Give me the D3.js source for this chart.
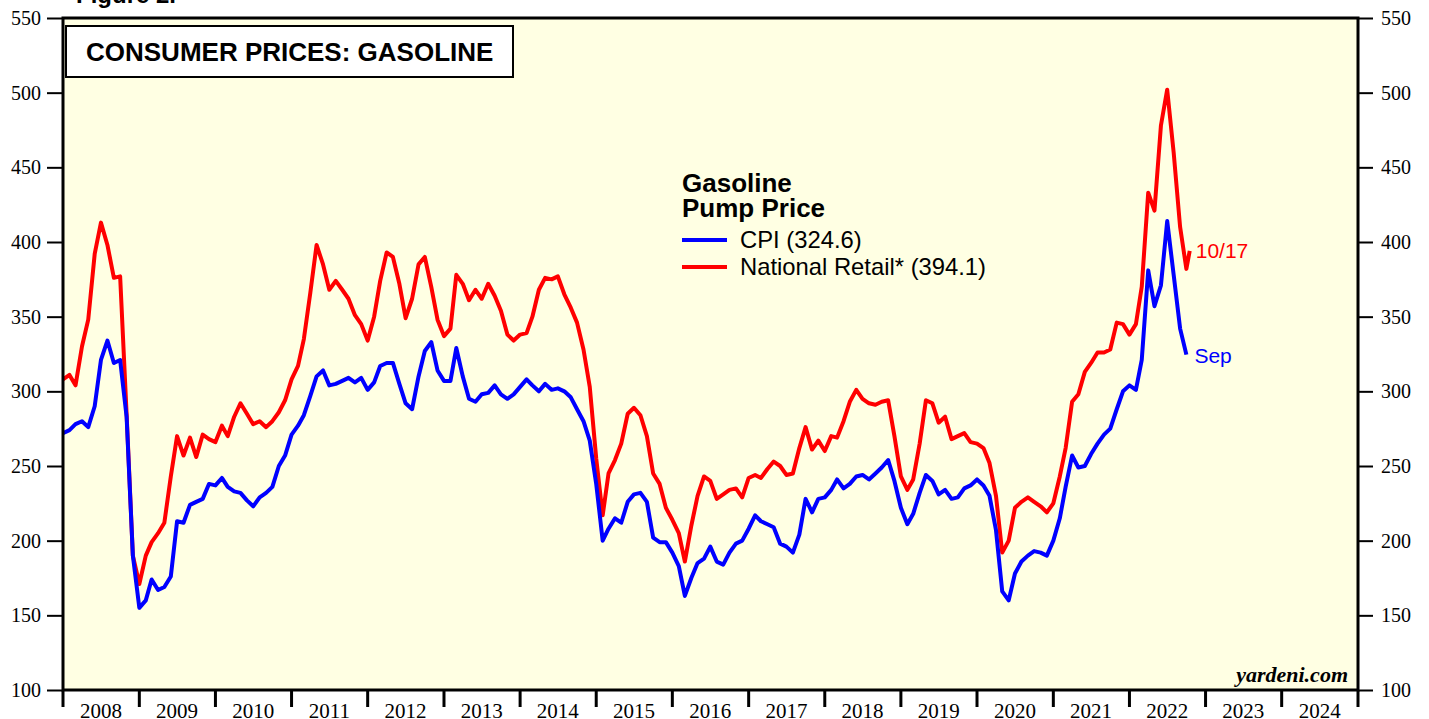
<!DOCTYPE html>
<html>
<head>
<meta charset="utf-8">
<script src="https://cdn.jsdelivr.net/npm/d3@7"></script>
<style>
  body { margin: 0; background: #ffffff; }
  svg { display: block; }
</style>
</head>
<body>
<div id="chart"></div>
<script>
// CPI gasoline index, monthly, Dec 2007 .. Sep 2022 (each plotted at month end)
const cpiGasoline = [
  272, 274, 278, 280, 276, 290, 321, 334, 319, 321, 283, 190,
  155, 160, 174, 167, 169, 176, 213, 212, 224, 226, 228, 238,
  237, 242, 236, 233, 232, 227, 223, 229, 232, 236, 250, 257,
  271, 277, 284, 297, 310, 314, 304, 305, 307, 309, 306, 309,
  301, 306, 317, 319, 319, 305, 292, 288, 310, 327, 333, 314,
  307, 307, 329, 310, 295, 293, 298, 299, 304, 298, 295, 298,
  303, 308, 304, 300, 305, 301, 302, 300, 296, 288, 280, 267,
  238, 200, 208, 215, 212, 226, 231, 232, 226, 202, 199, 199,
  192, 183, 163, 175, 185, 188, 196, 186, 184, 192, 198, 200,
  208, 217, 213, 211, 209, 198, 196, 192, 204, 228, 219, 228,
  229, 234, 241, 235, 238, 243, 244, 241, 245, 249, 254, 240,
  222, 211, 218, 232, 244, 240, 231, 234, 228, 229, 235, 237,
  241, 237, 230, 207, 166, 160, 178, 186, 190, 193, 192, 190,
  200, 215, 236, 257, 249, 250, 258, 265, 271, 275, 288, 300,
  304, 301, 321, 381, 357, 371, 414, 378, 342, 324.6
];

// National retail gasoline price (cents/gal), Jan 2008 .. Oct 2022, then latest week
const retailGasoline = [
  308, 311, 304, 330, 348, 392, 413, 398, 376, 377, 285, 190,
  171, 190, 199, 205, 212, 243, 270, 257, 269, 256, 271, 268,
  266, 277, 270, 283, 292, 285, 278, 280, 276, 280, 286, 294,
  308, 317, 335, 366, 398, 385, 368, 374, 368, 362, 351, 345,
  334, 350, 374, 393, 390, 372, 349, 362, 385, 390, 370, 348,
  337, 342, 378, 372, 361, 368, 362, 372, 364, 354, 338, 334,
  338, 339, 350, 368, 376, 375, 377, 365, 356, 346, 328, 303,
  255, 217, 245, 254, 265, 285, 289, 284, 270, 245, 238, 222,
  214, 205, 186, 210, 230, 243, 240, 228, 231, 234, 235, 229,
  242, 244, 242, 248, 253, 250, 244, 245, 262, 276, 261, 267,
  260, 270, 269, 280, 293, 301, 295, 292, 291, 293, 294, 270,
  243, 234, 241, 265, 294, 292, 279, 283, 268, 270, 272, 266,
  265, 262, 252, 230, 192, 200, 222, 226, 229, 226, 223, 219,
  225, 243, 262, 293, 298, 313, 319, 326, 326, 328, 346, 345,
  338, 345, 370, 433, 421, 478, 502, 460, 410, 382
];
const retailLatest = { date: "2022-10-17", value: 394.1 };

const yTicks = [100, 150, 200, 250, 300, 350, 400, 450, 500, 550];
const yearLabels = ["2008", "2009", "2010", "2011", "2012", "2013", "2014", "2015",
  "2016", "2017", "2018", "2019", "2020", "2021", "2022", "2023", "2024"];

const legendItems = [
  { label: "CPI (324.6)", color: "#0000ff" },
  { label: "National Retail* (394.1)", color: "#ff0000" },
];

const W = 1429, H = 719;
const M = { left: 63, right: 1358, top: 18, bottom: 690 };

const svg = d3.select("#chart")
  .append("svg")
  .attr("width", W)
  .attr("height", H);

const parse = d3.utcParse("%Y-%m-%d");
const start = parse("2008-01-01");

const x = d3.scaleUtc()
  .domain([start, parse("2025-01-01")])
  .range([M.left, M.right]);

const y = d3.scaleLinear()
  .domain([100, 550])
  .range([M.bottom, M.top]);

// build dated series
const cpiData = cpiGasoline.map((v, i) => ({ date: d3.utcMonth.offset(start, i), value: v }));
const retailData = retailGasoline.map((v, i) => ({ date: d3.utcMonth.offset(start, i), value: v }));
retailData.push({ date: parse(retailLatest.date), value: retailLatest.value });

// plot background
svg.append("rect")
  .attr("x", M.left)
  .attr("y", M.top)
  .attr("width", M.right - M.left)
  .attr("height", M.bottom - M.top)
  .attr("fill", "#ffffe3");

svg.append("clipPath")
  .attr("id", "plotClip")
  .append("rect")
  .attr("x", M.left)
  .attr("y", M.top)
  .attr("width", M.right - M.left)
  .attr("height", M.bottom - M.top);

// "Figure 2." cut off at the top
svg.append("text")
  .attr("x", 76)
  .attr("y", 3)
  .attr("font-family", "Liberation Sans, Arial, sans-serif")
  .attr("font-weight", "bold")
  .attr("font-size", 24)
  .text("Figure 2.");

// y axes, left and right
const leftAxis = d3.axisLeft(y).tickValues(yTicks).tickSize(16).tickPadding(6);
const rightAxis = d3.axisRight(y).tickValues(yTicks).tickSize(15).tickPadding(8);

function styleAxis(g) {
  g.select(".domain").remove();
  g.selectAll(".tick line").attr("stroke", "#000").attr("stroke-width", 2);
  g.selectAll(".tick text")
    .attr("fill", "#000")
    .attr("font-family", "Liberation Serif, Times New Roman, serif")
    .attr("font-size", 20);
}

svg.append("g")
  .attr("transform", `translate(${M.left},0)`)
  .call(leftAxis)
  .call(styleAxis);

svg.append("g")
  .attr("transform", `translate(${M.right},0)`)
  .call(rightAxis)
  .call(styleAxis);

// year ticks at boundaries, labels centered in each year
const yearStarts = yearLabels.map((d) => parse(`${d}-01-01`)).concat([parse("2025-01-01")]);
svg.append("g")
  .selectAll("line")
  .data(yearStarts)
  .join("line")
  .attr("x1", (d) => x(d))
  .attr("x2", (d) => x(d))
  .attr("y1", M.bottom)
  .attr("y2", M.bottom + 17)
  .attr("stroke", "#000")
  .attr("stroke-width", 3);

svg.append("g")
  .selectAll("text")
  .data(yearLabels)
  .join("text")
  .attr("x", (d) => x(parse(`${d}-07-01`)))
  .attr("y", 718)
  .attr("text-anchor", "middle")
  .attr("font-family", "Liberation Serif, Times New Roman, serif")
  .attr("font-size", 21)
  .text((d) => d);

// series
const line = d3.line()
  .x((d) => x(d.date))
  .y((d) => y(d.value));

const plot = svg.append("g").attr("clip-path", "url(#plotClip)");

plot.append("path")
  .datum(retailData)
  .attr("fill", "none")
  .attr("stroke", "#ff0000")
  .attr("stroke-width", 4)
  .attr("stroke-linejoin", "round")
  .attr("d", line);

plot.append("path")
  .datum(cpiData)
  .attr("fill", "none")
  .attr("stroke", "#0000ff")
  .attr("stroke-width", 4)
  .attr("stroke-linejoin", "round")
  .attr("d", line);

// end labels
const lastRetail = retailData[retailData.length - 1];
const lastCpi = cpiData[cpiData.length - 1];
svg.append("text")
  .attr("x", x(lastRetail.date) + 6)
  .attr("y", y(lastRetail.value) + 7)
  .attr("fill", "#ff0000")
  .attr("font-family", "Liberation Sans, Arial, sans-serif")
  .attr("font-size", 21)
  .text("10/17");

svg.append("text")
  .attr("x", x(lastCpi.date) + 8)
  .attr("y", y(lastCpi.value) + 8)
  .attr("fill", "#0000ff")
  .attr("font-family", "Liberation Sans, Arial, sans-serif")
  .attr("font-size", 21)
  .text("Sep");

// frame
svg.append("rect")
  .attr("x", M.left)
  .attr("y", M.top)
  .attr("width", M.right - M.left)
  .attr("height", M.bottom - M.top)
  .attr("fill", "none")
  .attr("stroke", "#000")
  .attr("stroke-width", 3);

// title box
svg.append("rect")
  .attr("x", 66)
  .attr("y", 26)
  .attr("width", 447)
  .attr("height", 51)
  .attr("fill", "#ffffff")
  .attr("stroke", "#000")
  .attr("stroke-width", 2);

svg.append("text")
  .attr("x", 86)
  .attr("y", 61)
  .attr("font-family", "Liberation Sans, Arial, sans-serif")
  .attr("font-weight", "bold")
  .attr("font-size", 26)
  .text("CONSUMER PRICES: GASOLINE");

// legend
const legend = svg.append("g").attr("transform", "translate(682,0)");
legend.append("text")
  .attr("x", 0)
  .attr("y", 192)
  .attr("font-family", "Liberation Sans, Arial, sans-serif")
  .attr("font-weight", "bold")
  .attr("font-size", 26)
  .text("Gasoline");
legend.append("text")
  .attr("x", 0)
  .attr("y", 217)
  .attr("font-family", "Liberation Sans, Arial, sans-serif")
  .attr("font-weight", "bold")
  .attr("font-size", 26)
  .text("Pump Price");

const items = legend.selectAll("g.item")
  .data(legendItems)
  .join("g")
  .attr("class", "item")
  .attr("transform", (d, i) => `translate(0,${240 + i * 27})`);
items.append("line")
  .attr("x1", 0)
  .attr("x2", 45)
  .attr("stroke", (d) => d.color)
  .attr("stroke-width", 4);
items.append("text")
  .attr("x", 58)
  .attr("y", 8)
  .attr("font-family", "Liberation Sans, Arial, sans-serif")
  .attr("font-size", 23.8)
  .text((d) => d.label);

// source
svg.append("text")
  .attr("x", 1348)
  .attr("y", 682)
  .attr("text-anchor", "end")
  .attr("font-family", "Liberation Serif, Times New Roman, serif")
  .attr("font-weight", "bold")
  .attr("font-style", "italic")
  .attr("font-size", 22)
  .text("yardeni.com");
</script>
</body>
</html>
